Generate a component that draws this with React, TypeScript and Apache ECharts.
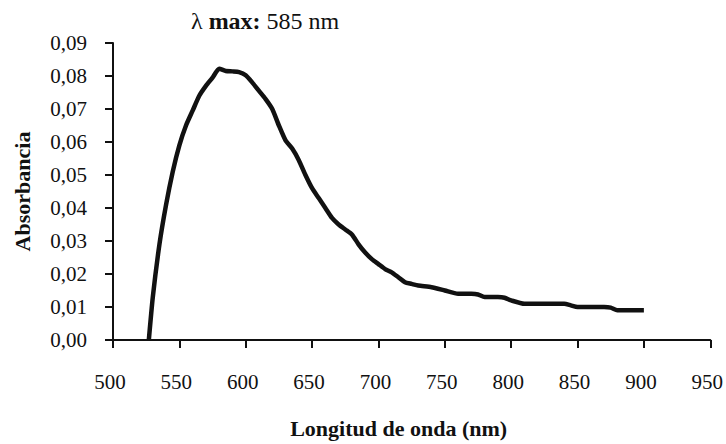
import React, { useEffect, useRef } from "react";
import * as echarts from "echarts";

const wavelengths = [527, 530, 535, 540, 545, 550, 555, 560, 565, 570, 575, 580, 585, 590, 595, 600, 605, 610, 615, 620, 625, 630, 635, 640, 645, 650, 655, 660, 665, 670, 675, 680, 685, 690, 695, 700, 705, 710, 715, 720, 725, 730, 740, 750, 760, 770, 775, 780, 790, 795, 800, 810, 820, 830, 840, 845, 850, 860, 870, 875, 880, 890, 900];
const absorbance = [0.0, 0.013, 0.029, 0.041, 0.051, 0.059, 0.065, 0.0695, 0.074, 0.077, 0.0795, 0.0822, 0.0815, 0.0814, 0.0812, 0.0802, 0.078, 0.0755, 0.073, 0.070, 0.065, 0.0605, 0.058, 0.0545, 0.050, 0.046, 0.043, 0.040, 0.037, 0.035, 0.0335, 0.032, 0.029, 0.0265, 0.0245, 0.023, 0.0215, 0.0205, 0.019, 0.0175, 0.017, 0.0165, 0.016, 0.015, 0.014, 0.014, 0.0138, 0.013, 0.013, 0.0128, 0.012, 0.011, 0.011, 0.011, 0.011, 0.0105, 0.010, 0.010, 0.010, 0.0098, 0.009, 0.009, 0.009];

const xTitle = "Longitud de onda (nm)";
const yTitle = "Absorbancia";

export default function App() {
  const ref = useRef<HTMLDivElement>(null);
  useEffect(() => {
    if (!ref.current) return;
    const chart = echarts.init(ref.current, null, { renderer: "svg" });
    const font = "Liberation Serif";
    chart.setOption({
      animation: false,
      backgroundColor: "#fff",
      textStyle: { fontFamily: font },
      title: {
        text: "{a|λ }{b|max:}{a| 585 nm}",
        left: 186,
        top: 4,
        textStyle: {
          fontFamily: font,
          fontWeight: "normal",
          fontSize: 24,
          rich: {
            a: { fontFamily: font, fontSize: 24, fontWeight: "normal", color: "#111" },
            b: { fontFamily: font, fontSize: 24, fontWeight: "bold", color: "#111" },
          },
        },
      },
      grid: { left: 113, right: 14, top: 43, bottom: 100, containLabel: false },
      xAxis: {
        type: "value",
        min: 500,
        max: 950,
        interval: 50,
        name: xTitle,
        nameLocation: "middle",
        nameGap: 77,
        nameTextStyle: {
          fontFamily: font,
          fontSize: 22,
          fontWeight: "bold",
          color: "#111",
          padding: [0, 26, 0, 0],
        },
        axisLine: { onZero: false, lineStyle: { color: "#111", width: 2 } },
        axisTick: { show: true, inside: false, length: 8, lineStyle: { color: "#111", width: 2 } },
        axisLabel: { margin: 31, fontFamily: font, fontSize: 21, color: "#111", padding: [0, 6, 0, 0] },
        splitLine: { show: false },
      },
      yAxis: {
        type: "value",
        min: 0,
        max: 0.09,
        interval: 0.01,
        name: yTitle,
        nameLocation: "middle",
        nameGap: 80,
        nameTextStyle: { fontFamily: font, fontSize: 22, fontWeight: "bold", color: "#111" },
        axisLine: { show: true, lineStyle: { color: "#111", width: 2 } },
        axisTick: { show: true, inside: false, length: 8, lineStyle: { color: "#111", width: 2 } },
        axisLabel: {
          margin: 26,
          fontFamily: font,
          fontSize: 21,
          color: "#111",
          formatter: (v: number) => v.toFixed(2).replace(".", ","),
        },
        splitLine: { show: false },
      },
      series: [
        {
          type: "line",
          data: wavelengths.map((w, i) => [w, absorbance[i]]),
          showSymbol: false,
          symbol: "none",
          smooth: 0.2,
          lineStyle: { color: "#111", width: 4.5, join: "round", cap: "butt" },
        },
      ],
    });
    return () => chart.dispose();
  }, []);
  return <div ref={ref} style={{ width: 726, height: 444, position: "absolute", left: 0, top: 0 }} />;
}
